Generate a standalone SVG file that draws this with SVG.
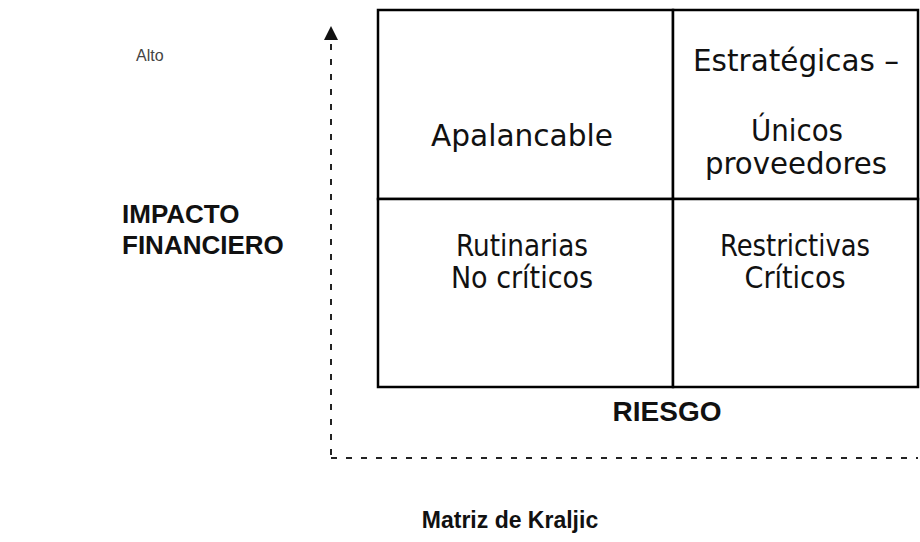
<svg xmlns="http://www.w3.org/2000/svg" width="920" height="542" viewBox="0 0 920 542">
<style>
.cell{fill:#fff;stroke:#000;stroke-width:2.5}
.q{font-family:"DejaVu Sans Condensed","DejaVu Sans",Verdana,sans-serif;font-stretch:condensed;font-size:30px;fill:#111;text-anchor:middle}
.b{font-family:"Liberation Sans",Arial,sans-serif;font-weight:bold;fill:#111}
.axis{stroke:#222;stroke-width:2;stroke-dasharray:6 9;fill:none}
</style>
<rect width="920" height="542" fill="#fff"/>
<g id="axes">
<path class="axis" d="M331,44 V458"/>
<path class="axis" d="M331,458 H918"/>
<path d="M324,40 L331,26 L338,40 Z" fill="#111"/>
</g>
<g id="q-apalancable"><rect class="cell" x="378" y="10" width="295" height="189"/><text class="q" x="522" y="146" textLength="182" lengthAdjust="spacingAndGlyphs">Apalancable</text></g>
<g id="q-estrategicas"><rect class="cell" x="673" y="10" width="245" height="189"/><text class="q" x="796" y="71" textLength="206" lengthAdjust="spacingAndGlyphs">Estratégicas –</text><text class="q" x="797" y="141" textLength="92" lengthAdjust="spacingAndGlyphs">Únicos</text><text class="q" x="796" y="174" textLength="182" lengthAdjust="spacingAndGlyphs">proveedores</text></g>
<g id="q-rutinarias"><rect class="cell" x="378" y="199" width="295" height="188"/><text class="q" x="522" y="256" textLength="132" lengthAdjust="spacingAndGlyphs">Rutinarias</text><text class="q" x="522" y="288">No críticos</text></g>
<g id="q-restrictivas"><rect class="cell" x="673" y="199" width="245" height="188"/><text class="q" x="795" y="256" textLength="150" lengthAdjust="spacingAndGlyphs">Restrictivas</text><text class="q" x="795" y="288">Críticos</text></g>
<text x="136" y="61" font-family="Liberation Sans,Arial,sans-serif" font-size="16" fill="#444">Alto</text>
<text class="b" x="122" y="223" font-size="26">IMPACTO</text>
<text class="b" x="122" y="254" font-size="26">FINANCIERO</text>
<text class="b" x="667" y="421" font-size="28" text-anchor="middle">RIESGO</text>
<text class="b" x="510" y="528" font-size="23" text-anchor="middle">Matriz de Kraljic</text>
</svg>
